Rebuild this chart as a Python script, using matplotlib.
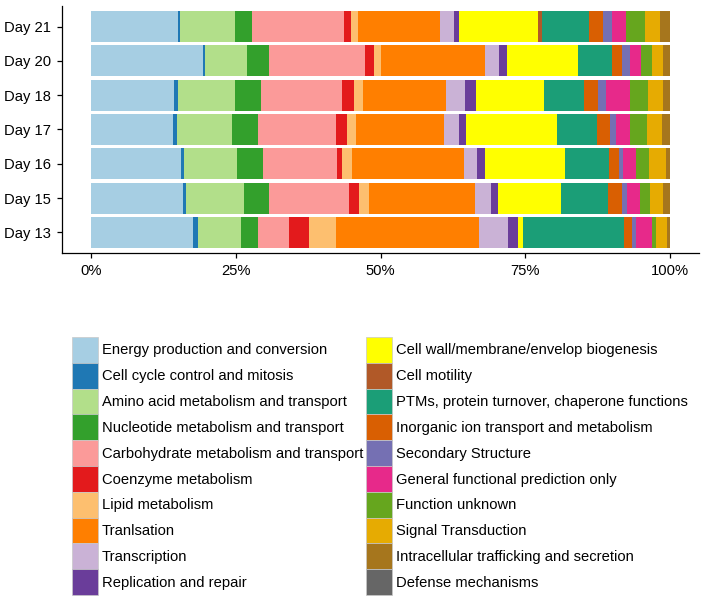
import matplotlib
matplotlib.use("Agg")
import matplotlib.pyplot as plt
from matplotlib.patches import Patch
import numpy as np

plt.rcParams['font.family'] = ['Liberation Sans', 'DejaVu Sans']

days = ['Day 13', 'Day 15', 'Day 16', 'Day 17', 'Day 18', 'Day 20', 'Day 21']

categories = ['Energy production and conversion', 'Cell cycle control and mitosis',
              'Amino acid metabolism and transport', 'Nucleotide metabolism and transport',
              'Carbohydrate metabolism and transport', 'Coenzyme metabolism',
              'Lipid metabolism', 'Tranlsation', 'Transcription', 'Replication and repair',
              'Cell wall/membrane/envelop biogenesis', 'Cell motility',
              'PTMs, protein turnover, chaperone functions',
              'Inorganic ion transport and metabolism', 'Secondary Structure',
              'General functional prediction only', 'Function unknown',
              'Signal Transduction', 'Intracellular trafficking and secretion',
              'Defense mechanisms']

colors = ['#A6CEE3', '#1F78B4', '#B2DF8A', '#33A02C', '#FB9A99', '#E31A1C',
          '#FDBF6F', '#FF7F00', '#CAB2D6', '#6A3D9A', '#FFFF00', '#B15928',
          '#1B9E77', '#D95F02', '#7570B3', '#E7298A', '#66A61E', '#E6AB02',
          '#A6761D', '#666666']

# percent of genes per category, one list per day (same order as categories)
day13 = [17.55, 0.9, 7.5, 2.9, 5.35, 3.5, 4.65, 24.75, 4.95, 1.75, 0.9, 0.0,
         17.4, 1.4, 0.75, 2.6, 0.8, 1.95, 0.45, 0.0]
day15 = [15.9, 0.55, 10.0, 4.3, 13.75, 1.7, 1.75, 18.35, 2.75, 1.15, 10.95, 0.0,
         8.05, 2.45, 0.75, 2.35, 1.7, 2.25, 1.2, 0.0]
day16 = [15.55, 0.55, 9.1, 4.6, 12.7, 0.95, 1.65, 19.3, 2.3, 1.45, 13.75, 0.0,
         7.55, 1.7, 0.7, 2.3, 2.25, 2.9, 0.75, 0.0]
day17 = [14.2, 0.6, 9.55, 4.45, 13.5, 1.95, 1.6, 15.1, 2.65, 1.15, 15.7, 0.0,
         6.95, 2.2, 1.05, 2.45, 2.95, 2.6, 1.35, 0.0]
day18 = [14.35, 0.75, 9.8, 4.5, 14.05, 1.95, 1.6, 14.35, 3.3, 1.8, 11.9, 0.0,
         6.9, 2.4, 1.35, 4.1, 3.15, 2.65, 1.15, 0.0]
day20 = [19.4, 0.3, 7.2, 3.9, 16.5, 1.55, 1.15, 18.0, 2.45, 1.35, 12.25, 0.0,
         5.8, 1.8, 1.4, 1.95, 1.75, 1.95, 1.25, 0.0]
day21 = [15.1, 0.35, 9.45, 2.9, 15.9, 1.25, 1.25, 14.1, 2.4, 0.9, 13.65, 0.7,
         8.05, 2.55, 1.5, 2.35, 3.35, 2.55, 1.75, 0.0]

data = np.array([day13, day15, day16, day17, day18, day20, day21])
data = data / data.sum(axis=1, keepdims=True)

fs = 10.6

fig = plt.figure(figsize=(7.04, 6.02), dpi=100)
ax = fig.add_axes([62/704, 1-253/602, (699-62)/704, (253-6)/602])

y = np.arange(len(days))
left = np.zeros(len(days))
for i, cat in enumerate(categories):
    ax.barh(y, data[:, i], left=left, height=0.9, color=colors[i], linewidth=0)
    left += data[:, i]

ax.set_xlim(-0.05, 1.05)
ax.set_ylim(-0.6, len(days) - 0.4)
ax.set_xticks([0, 0.25, 0.5, 0.75, 1.0])
ax.set_xticklabels(['0%', '25%', '50%', '75%', '100%'])
ax.set_yticks(y)
ax.set_yticklabels(days)
for s in ['top', 'right']:
    ax.spines[s].set_visible(False)
for s in ['left', 'bottom']:
    ax.spines[s].set_linewidth(0.9)
ax.tick_params(axis='both', length=3.6, width=0.9, labelsize=fs, colors='black')
ax.tick_params(axis='x', pad=4.5)
ax.tick_params(axis='y', pad=4.5)

handles = [Patch(facecolor=c, edgecolor='#C8C8C8', linewidth=0.5) for c in colors]
fig.legend(handles, categories, ncol=2, loc='upper left',
           bbox_to_anchor=(72.3/704, 1-337/602), frameon=False,
           fontsize=fs, handlelength=1.77, handleheight=2.32,
           labelspacing=0, handletextpad=0.25, columnspacing=0.2,
           borderpad=0, borderaxespad=0)

fig.savefig('out.png', dpi=100)
